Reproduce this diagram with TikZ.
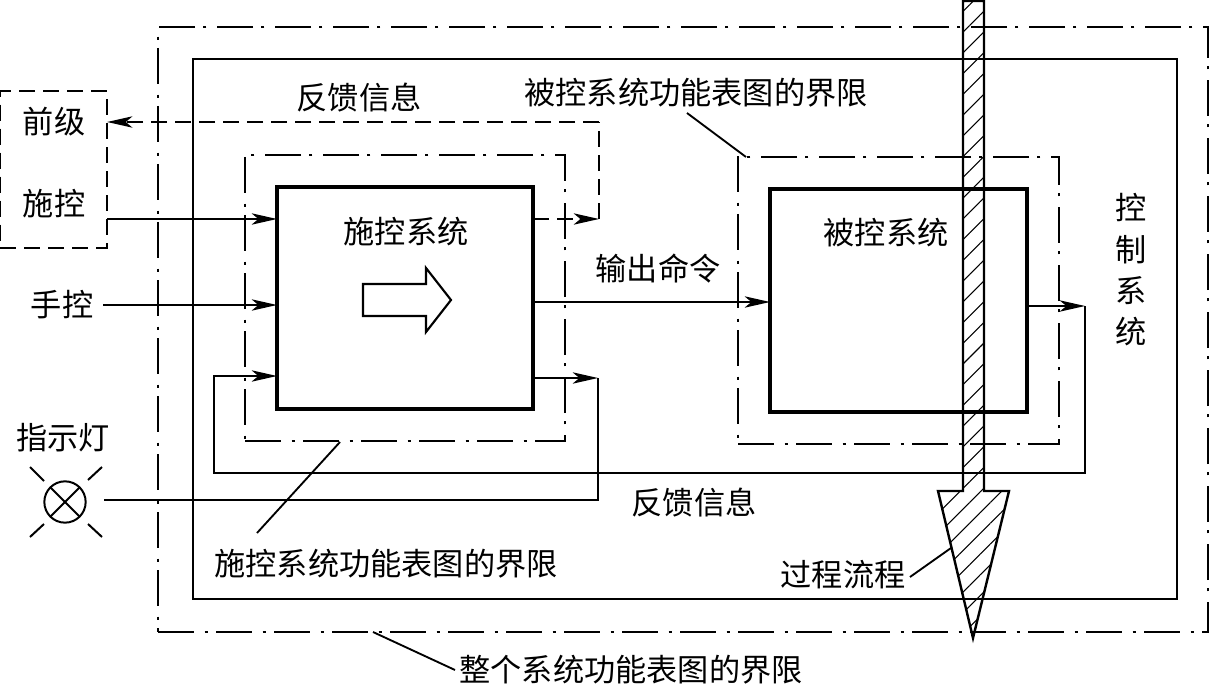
\documentclass[tikz,border=0pt]{standalone}
\usepackage{fontspec}
\setmainfont{Noto Sans CJK SC}
\usetikzlibrary{arrows.meta,positioning,calc,fit,patterns.meta}
\tikzset{
  flow/.style={-{Stealth[length=19pt,width=8.5pt,inset=5pt]}, line width=1.5pt},
  plainline/.style={line width=1.5pt},
  backflow/.style={flow, dash pattern=on 12pt off 6pt},
  limit/.style={draw, line width=1.6pt, inner sep=24pt, outer sep=0pt,
                dash pattern=on 27pt off 8pt on 2.5pt off 6pt},
  blockbox/.style={draw, line width=2.5pt, inner sep=0pt, outer sep=0pt},
  framebox/.style={draw, line width=1.7pt, inner sep=0pt, outer sep=0pt},
  textlabel/.style={inner sep=0pt, align=center, font=\fontsize{23.4}{31}\selectfont},
  leader/.style={line width=1.4pt},
  hatch/.style={draw, line width=1.8pt, line join=miter,
                pattern={Lines[angle=45,distance=11pt,line width=0.8pt]}},
}
\begin{document}
\begin{tikzpicture}[x=0.75pt,y=-0.75pt]
    \useasboundingbox (0,0) rectangle (1209,684);
    \node[limit,minimum width=787.5pt,minimum height=453.75pt,inner sep=0pt] (whole) at (683,329.5) {};
    \node[framebox,minimum width=738pt,minimum height=405pt] (control) at (685,329) {};
    \node[blockbox,minimum width=192pt,minimum height=166.5pt] (drive) at (405,298) {};
    \node[blockbox,minimum width=192.75pt,minimum height=167.25pt] (plant) at (898.5,300.5) {};
    \node[limit,fit=(drive)] (drivelimit) {};
    \node[limit,fit=(plant)] (plantlimit) {};
    \node[draw,line width=1.5pt,dash pattern=on 12pt off 6pt,inner sep=0pt,outer sep=0pt,
          minimum width=80pt,minimum height=117.75pt] (prior) at (53.75,169.5) {};

    \node[textlabel] (priora) at (54,122) {前级};
    \node[textlabel] (priorb) at (54,204) {施控};
    \node[textlabel] (manual) at (62,305) {手控};
    \node[textlabel] (lamptext) at (63,438) {指示灯};
    \node[draw,circle,line width=1.5pt,minimum size=31pt,inner sep=0pt,outer sep=0pt] (lamp) at (65,502) {};
    \draw[plainline] (lamp.north west) -- (lamp.south east);
    \draw[plainline] (lamp.north east) -- (lamp.south west);
    \draw[plainline] (30,467) -- (44,481);
    \draw[plainline] (102,467) -- (88,480);
    \draw[plainline] (30,537) -- (44,524);
    \draw[plainline] (102,537) -- (88,524);

    \node[textlabel] (drivetext) at (406,232) {施控系统};
    \node[textlabel] (planttext) at (886,233) {被控系统};
    \node[textlabel] (outtext) at (658,269) {输出命令};
    \node[textlabel] (fbtop) at (359,98) {反馈信息};
    \node[textlabel] (fbbottom) at (694,503) {反馈信息};
    \node[textlabel] (plantnote) at (696,93) {被控系统功能表图的界限};
    \node[textlabel] (drivenote) at (386,564) {施控系统功能表图的界限};
    \node[textlabel] (wholenote) at (631,670) {整个系统功能表图的界限};
    \node[textlabel] (processtext) at (843,575) {过程流程};
    \node[textlabel] (controltext) at (1131,270) {控\\制\\系\\统};

    \draw[line width=1.6pt] (363,284) -- (426,284) -- (426,268) -- (451,300)
        -- (426,332) -- (426,316) -- (363,316) -- cycle;

    \coordinate (inprior) at (107,219);
    \coordinate (inmanual) at (103,305);
    \coordinate (inlamp) at (104,500);
    \coordinate (outfb) at (533,219);
    \coordinate (fbcorner) at (599,219);
    \coordinate (outcmd) at (533,302);
    \coordinate (outlamp) at (533,378);
    \coordinate (lampcorner) at (598,378);
    \coordinate (outplant) at (1027,306);
    \coordinate (plantcorner) at (1085,306);
    \coordinate (fbleft) at (214,376);

    \draw[flow] (inprior) -- (drive.west |- inprior);
    \draw[flow] (inmanual) -- (drive.west |- inmanual);
    \draw[flow] (outcmd) -- (plant.west |- outcmd);
    \draw[backflow] (outfb) -- (fbcorner);
    \draw[plainline,dash pattern=on 12pt off 6pt] (fbcorner) -- (fbcorner |- priora);
    \draw[backflow] (fbcorner |- priora) -- (prior.east |- priora);
    \draw[flow] (outlamp) -- (lampcorner);
    \draw[plainline] (lampcorner) -- (lampcorner |- inlamp) -- (inlamp);
    \draw[flow] (outplant) -- (plantcorner);
    \draw[flow] (plantcorner) -- (plantcorner |- 0,473) -- (fbleft |- 0,473) -- (fbleft) -- (drive.west |- fbleft);

    \draw[leader] (plantlimit.north west) ++(8,0) -- (687,113);
    \draw[leader] (340,442) -- (257,533);
    \draw[leader] (373,632) -- (455,670);
    \draw[leader] (951,548) -- (910,577);

    \draw[hatch] (963,1) -- (984,1) -- (984,491) -- (1009,491) -- (973,638) -- (938,491)
        -- (963,491) -- cycle;
\end{tikzpicture}
\end{document}
